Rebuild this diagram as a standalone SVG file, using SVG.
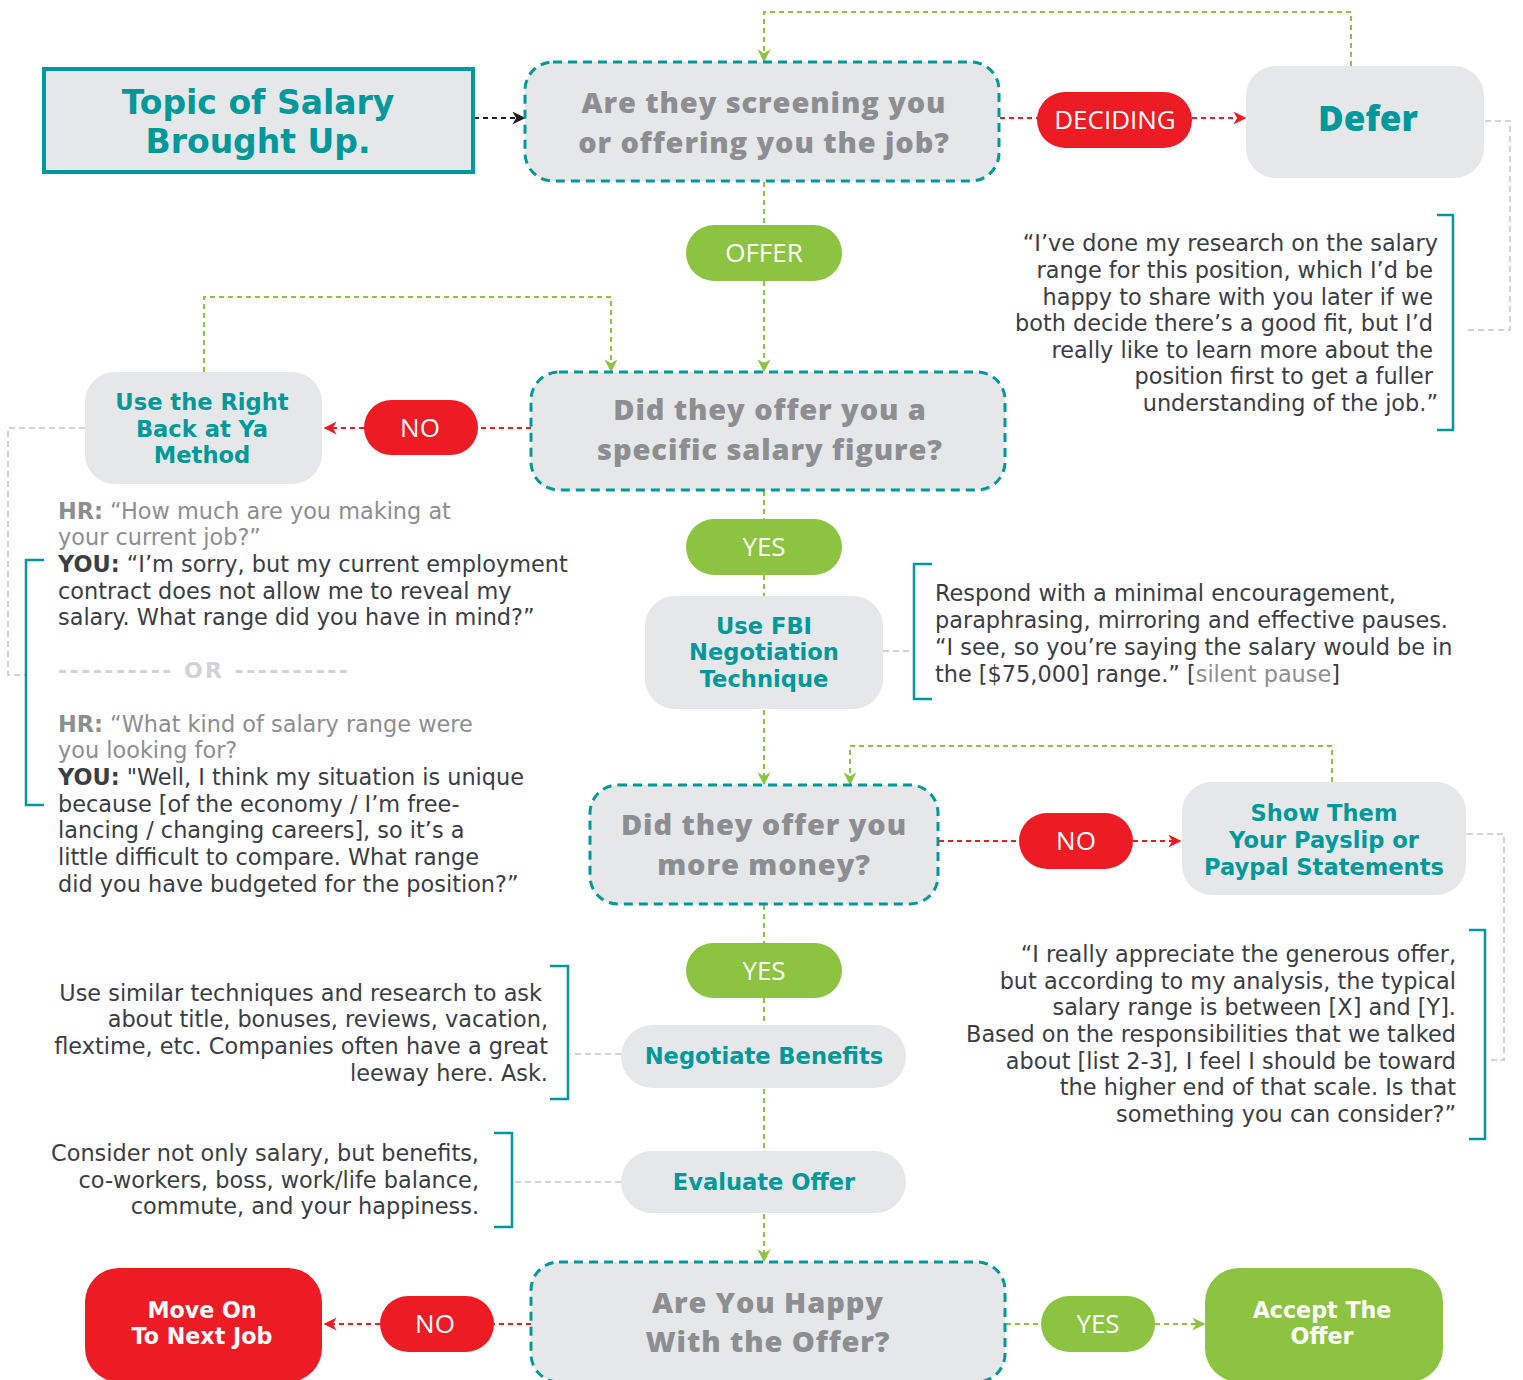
<svg xmlns="http://www.w3.org/2000/svg" width="1523" height="1380" viewBox="0 0 1523 1380">
<style>
.q{fill:#e6e7e8;stroke:#00989a;stroke-width:3;stroke-dasharray:9 6}
.box{fill:#e6e7e8}
.qt{font-family:"Open Sans",Lato,sans-serif;font-weight:800;font-size:29px;letter-spacing:0.9px;fill:#8c8e91;text-anchor:middle}
.nt{font-family:"DejaVu Sans",sans-serif;font-weight:700;font-size:22.6px;fill:#00989a;text-anchor:middle}
.tt{font-family:"DejaVu Sans",sans-serif;font-weight:700;font-size:33px;fill:#00989a;text-anchor:middle}
.df{font-family:"Open Sans",Lato,sans-serif;font-weight:800;font-size:35px;fill:#00989a;text-anchor:middle}
.wt{font-family:"DejaVu Sans",sans-serif;font-weight:700;font-size:22.2px;fill:#ffffff;text-anchor:middle}
.pill{font-family:"Open Sans",Lato,sans-serif;font-weight:400;font-size:26px;fill:#ffffff;text-anchor:middle}
.body{font-family:"DejaVu Sans",sans-serif;font-size:22.4px;fill:#3a3d44}
.or{font-family:"DejaVu Sans",sans-serif;font-size:22px;font-weight:700;fill:#d1d3d4}
.r{text-anchor:end}
.hr{fill:#8c8e91}
.b{font-weight:700}
.g{fill:none;stroke:#8cc341;stroke-width:2;stroke-dasharray:5 4}
.rd{fill:none;stroke:#ed1c24;stroke-width:2;stroke-dasharray:5 4}
.gy{fill:none;stroke:#d1d3d4;stroke-width:2;stroke-dasharray:6 4}
.bk{fill:none;stroke:#231f20;stroke-width:2;stroke-dasharray:5 4}
.br{fill:none;stroke:#00989a;stroke-width:2.5}
</style>
<defs>
<marker id="ag" viewBox="0 0 10 10" refX="9" refY="5" markerWidth="13" markerHeight="13" orient="auto" markerUnits="userSpaceOnUse"><path d="M0,0 L10,5 L0,10 L3,5 z" fill="#8cc341"/></marker>
<marker id="ar" viewBox="0 0 10 10" refX="9" refY="5" markerWidth="13" markerHeight="13" orient="auto" markerUnits="userSpaceOnUse"><path d="M0,0 L10,5 L0,10 L3,5 z" fill="#ed1c24"/></marker>
<marker id="ab" viewBox="0 0 10 10" refX="9" refY="5" markerWidth="13" markerHeight="13" orient="auto" markerUnits="userSpaceOnUse"><path d="M0,0 L10,5 L0,10 L3,5 z" fill="#231f20"/></marker>
</defs>

<g id="connectors">
<path class="bk" d="M474,118 L524,118" marker-end="url(#ab)"/>
<path class="g" d="M1351,66 L1351,12 L764,12 L764,61" marker-end="url(#ag)"/>
<path class="rd" d="M1000,118 L1038,118"/>
<path class="rd" d="M1192,118 L1245,118" marker-end="url(#ar)"/>
<path class="gy" d="M1485,121 L1510,121 L1510,330 L1465,330"/>
<path class="g" d="M764,182 L764,226"/>
<path class="g" d="M764,281 L764,371" marker-end="url(#ag)"/>
<path class="g" d="M204,372 L204,297 L611,297 L611,371" marker-end="url(#ag)"/>
<path class="rd" d="M531,428 L478,428"/>
<path class="rd" d="M364,428 L325,428" marker-end="url(#ar)"/>
<path class="gy" d="M85,428 L8,428 L8,675 L25,675"/>
<path class="g" d="M764,491 L764,519"/>
<path class="g" d="M764,575 L764,596"/>
<path class="gy" d="M883,651 L912,651"/>
<path class="g" d="M764,710 L764,784" marker-end="url(#ag)"/>
<path class="g" d="M1332,782 L1332,746 L850,746 L850,784" marker-end="url(#ag)"/>
<path class="rd" d="M939,841 L1019,841"/>
<path class="rd" d="M1133,841 L1180,841" marker-end="url(#ar)"/>
<path class="gy" d="M1467,834 L1504,834 L1504,1060 L1490,1060"/>
<path class="g" d="M764,905 L764,943"/>
<path class="g" d="M764,998 L764,1025"/>
<path class="gy" d="M621,1054 L570,1054"/>
<path class="g" d="M764,1089 L764,1151"/>
<path class="gy" d="M621,1182 L514,1182"/>
<path class="g" d="M764,1214 L764,1261" marker-end="url(#ag)"/>
<path class="rd" d="M531,1324 L494,1324"/>
<path class="rd" d="M380,1324 L325,1324" marker-end="url(#ar)"/>
<path class="g" d="M1006,1324 L1041,1324"/>
<path class="g" d="M1155,1324 L1204,1324" marker-end="url(#ag)"/>
</g>

<g id="topic">
<rect x="44" y="69" width="429" height="103" fill="#e6e7e8" stroke="#00989a" stroke-width="4"/>
<text class="tt" x="258" y="114">Topic of Salary</text>
<text class="tt" x="258" y="153">Brought Up.</text>
</g>

<g id="q-screening">
<rect class="q" x="525" y="62" width="474" height="119" rx="28"/>
<text class="qt" x="764" y="113">Are they screening you</text>
<text class="qt" x="764" y="153">or offering  you the job?</text>
</g>

<g id="deciding">
<rect x="1037" y="92" width="155" height="56" rx="28" fill="#ed1c24"/>
<text class="pill" x="1115" y="129">DECIDING</text>
</g>

<g id="defer">
<rect class="box" x="1246" y="66" width="238" height="112" rx="30"/>
<text class="df" x="1368" y="131">Defer</text>
</g>

<g id="defer-note">
<path class="br" d="M1437,215 L1453,215 L1453,430 L1437,430"/>
<text class="body r" x="1438" y="251">“I’ve done my research on the salary</text>
<text class="body r" x="1433" y="278">range for this position, which I’d be</text>
<text class="body r" x="1433" y="305">happy to share with you later if we</text>
<text class="body r" x="1433" y="331">both decide there’s a good fit, but I’d</text>
<text class="body r" x="1433" y="358">really like to learn more about the</text>
<text class="body r" x="1433" y="384">position first to get a fuller</text>
<text class="body r" x="1438" y="411">understanding of the job.”</text>
</g>

<g id="offer">
<rect x="686" y="225" width="156" height="56" rx="28" fill="#8cc341"/>
<text class="pill" x="764" y="262">OFFER</text>
</g>

<g id="q-specific">
<rect class="q" x="531" y="372" width="474" height="118" rx="28"/>
<text class="qt" x="770" y="420">Did they offer you a</text>
<text class="qt" x="770" y="460">specific salary figure?</text>
</g>

<g id="no1">
<rect x="364" y="400" width="114" height="55" rx="27.5" fill="#ed1c24"/>
<text class="pill" x="420" y="437">NO</text>
</g>

<g id="right-back">
<rect class="box" x="85" y="372" width="237" height="112" rx="30"/>
<text class="nt" x="202" y="410">Use the Right</text>
<text class="nt" x="202" y="437">Back at Ya</text>
<text class="nt" x="202" y="463">Method</text>
</g>

<g id="right-back-note">
<path class="br" d="M44,560 L26,560 L26,805 L44,805"/>
<text class="body hr" x="58" y="519"><tspan class="b">HR:</tspan> “How much are you making at</text>
<text class="body hr" x="58" y="545">your current job?”</text>
<text class="body" x="58" y="572"><tspan class="b">YOU:</tspan> “I’m sorry, but my current employment</text>
<text class="body" x="58" y="599">contract  does not allow me to reveal my</text>
<text class="body" x="58" y="625">salary. What range did you have in mind?”</text>
<text class="or" x="58" y="678" textLength="290" lengthAdjust="spacing">---------- OR ----------</text>
<text class="body hr" x="58" y="732"><tspan class="b">HR:</tspan> “What kind of salary range were</text>
<text class="body hr" x="58" y="758">you looking for?</text>
<text class="body" x="58" y="785"><tspan class="b">YOU:</tspan> "Well, I think my situation is unique</text>
<text class="body" x="58" y="812">because [of the economy / I’m free-</text>
<text class="body" x="58" y="838">lancing / changing careers], so it’s a</text>
<text class="body" x="58" y="865">little difficult to compare. What range</text>
<text class="body" x="58" y="892">did you have budgeted for the position?”</text>
</g>

<g id="yes1">
<rect x="686" y="519" width="156" height="56" rx="28" fill="#8cc341"/>
<text class="pill" x="764" y="556">YES</text>
</g>

<g id="fbi">
<rect class="box" x="645" y="596" width="238" height="113" rx="30"/>
<text class="nt" x="764" y="634">Use FBI</text>
<text class="nt" x="764" y="660">Negotiation</text>
<text class="nt" x="764" y="687">Technique</text>
</g>

<g id="fbi-note">
<path class="br" d="M932,564 L914,564 L914,699 L932,699"/>
<text class="body" x="935" y="601">Respond with a minimal encouragement,</text>
<text class="body" x="935" y="628">paraphrasing, mirroring and effective pauses.</text>
<text class="body" x="935" y="655">“I see, so you’re saying the salary would be in</text>
<text class="body" x="935" y="682">the [$75,000] range.” [<tspan class="hr">silent pause</tspan>]</text>
</g>

<g id="q-more">
<rect class="q" x="590" y="785" width="348" height="119" rx="28"/>
<text class="qt" x="764" y="835">Did they offer you</text>
<text class="qt" x="764" y="875">more money?</text>
</g>

<g id="no2">
<rect x="1019" y="813" width="114" height="56" rx="28" fill="#ed1c24"/>
<text class="pill" x="1076" y="850">NO</text>
</g>

<g id="payslip">
<rect class="box" x="1182" y="782" width="284" height="113" rx="30"/>
<text class="nt" x="1324" y="821">Show Them</text>
<text class="nt" x="1324" y="848">Your Payslip or</text>
<text class="nt" x="1324" y="875">Paypal Statements</text>
</g>

<g id="payslip-note">
<path class="br" d="M1469,930 L1485,930 L1485,1139 L1469,1139"/>
<text class="body r" x="1456" y="962">“I really appreciate the generous offer,</text>
<text class="body r" x="1456" y="989">but according to my analysis, the typical</text>
<text class="body r" x="1456" y="1015">salary range is between [X] and [Y].</text>
<text class="body r" x="1456" y="1042">Based on the responsibilities that we talked</text>
<text class="body r" x="1456" y="1069">about [list 2-3], I feel I should be toward</text>
<text class="body r" x="1456" y="1095">the higher end of that scale. Is that</text>
<text class="body r" x="1456" y="1122">something you can consider?”</text>
</g>

<g id="yes2">
<rect x="686" y="943" width="156" height="55" rx="27.5" fill="#8cc341"/>
<text class="pill" x="764" y="980">YES</text>
</g>

<g id="benefits">
<rect class="box" x="621" y="1025" width="285" height="63" rx="31.5"/>
<text class="nt" x="764" y="1064">Negotiate Benefits</text>
</g>

<g id="benefits-note">
<path class="br" d="M550,966 L568,966 L568,1099 L550,1099"/>
<text class="body r" x="542" y="1001">Use similar techniques and research to ask</text>
<text class="body r" x="548" y="1027">about title, bonuses, reviews, vacation,</text>
<text class="body r" x="548" y="1054">flextime, etc. Companies often have a great</text>
<text class="body r" x="548" y="1081">leeway here. Ask.</text>
</g>

<g id="evaluate">
<rect class="box" x="621" y="1151" width="285" height="62" rx="31"/>
<text class="nt" x="764" y="1190">Evaluate Offer</text>
</g>

<g id="evaluate-note">
<path class="br" d="M494,1133 L512,1133 L512,1227 L494,1227"/>
<text class="body r" x="479" y="1161">Consider not only salary, but benefits,</text>
<text class="body r" x="479" y="1188">co-workers, boss, work/life balance,</text>
<text class="body r" x="479" y="1214">commute, and your happiness.</text>
</g>

<g id="q-happy">
<rect class="q" x="531" y="1262" width="474" height="120" rx="28"/>
<text class="qt" x="768" y="1313">Are You Happy</text>
<text class="qt" x="768" y="1352">With the Offer?</text>
</g>

<g id="no3">
<rect x="380" y="1296" width="114" height="56" rx="28" fill="#ed1c24"/>
<text class="pill" x="435" y="1333">NO</text>
</g>

<g id="move-on">
<rect x="85" y="1268" width="237" height="114" rx="34" fill="#ed1c24"/>
<text class="wt" x="202" y="1318">Move On</text>
<text class="wt" x="202" y="1344">To Next Job</text>
</g>

<g id="yes3">
<rect x="1041" y="1296" width="114" height="56" rx="28" fill="#8cc341"/>
<text class="pill" x="1098" y="1333">YES</text>
</g>

<g id="accept">
<rect x="1205" y="1268" width="238" height="114" rx="34" fill="#8cc341"/>
<text class="wt" x="1322" y="1318">Accept The</text>
<text class="wt" x="1322" y="1344">Offer</text>
</g>
</svg>
